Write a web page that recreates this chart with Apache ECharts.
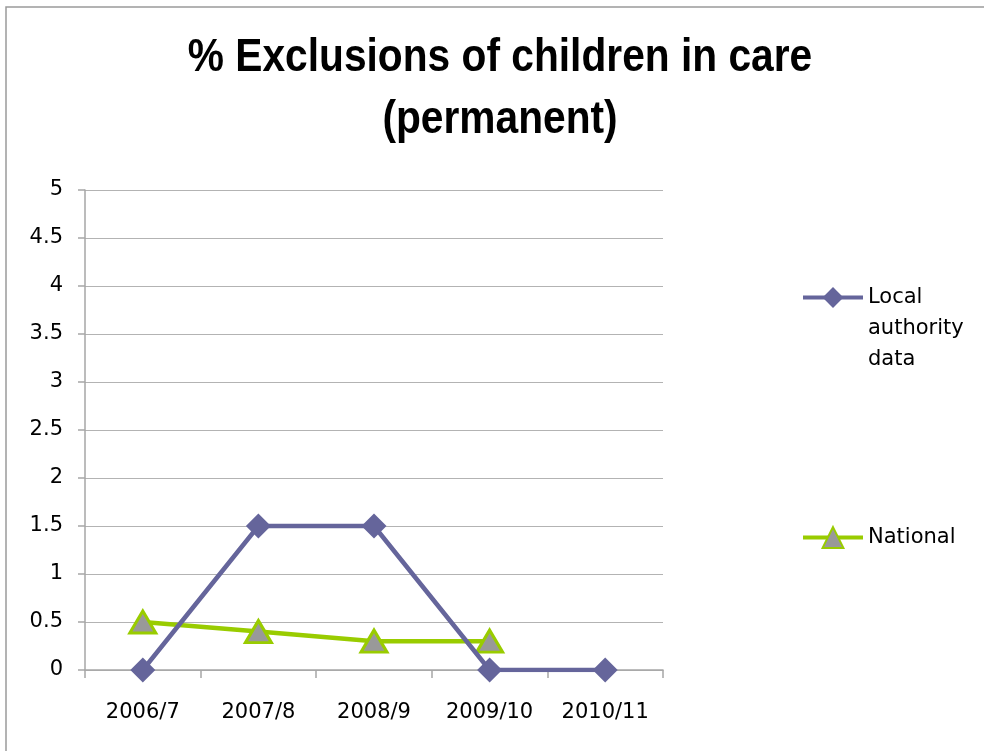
<!DOCTYPE html>
<html>
<head>
<meta charset="utf-8">
<style>
  html, body { margin: 0; padding: 0; background: #fff; }
  #chart { width: 984px; height: 751px; }
</style>
<script src="https://cdn.jsdelivr.net/npm/echarts@6/dist/echarts.min.js"></script>
</head>
<body>
<div id="chart"></div>
<script>
// School years on the category axis
const years = ['2006/7', '2007/8', '2008/9', '2009/10', '2010/11'];
// Permanent exclusions of children in care, percent
const localAuthority = [0, 1.5, 1.5, 0, 0];
const national = [0.5, 0.4, 0.3, 0.3, null];
// Value axis range and step
const yMin = 0;
const yMax = 5;
const yStep = 0.5;

const LABEL_FONT = 'DejaVu Sans';
const LEGEND_LINE = 31;

const chart = echarts.init(document.getElementById('chart'), null, { renderer: 'canvas' });

chart.setOption({
  backgroundColor: '#ffffff',
  animation: false,
  graphic: [{
    // outer frame of the chart area
    type: 'rect',
    x: 6,
    y: 7,
    shape: { x: 0, y: 0, width: 1000, height: 800 },
    style: { fill: 'none', stroke: '#9a9a9a', lineWidth: 1.5 },
    silent: true,
    z: -1
  }, {
    // condensed bold heading
    type: 'text',
    x: 500,
    y: 89,
    scaleX: 0.885,
    silent: true,
    style: {
      text: '% Exclusions of children in care\n(permanent)',
      x: 0,
      y: 0,
      align: 'center',
      verticalAlign: 'middle',
      fontFamily: '"Liberation Sans", Arial, sans-serif',
      fontWeight: 'bold',
      fontSize: 46,
      lineHeight: 62,
      fill: '#000'
    }
  }],
  legend: [{
    data: ['Local authority data'],
    left: 796,
    top: 215,
    orient: 'vertical',
    itemWidth: 60,
    itemHeight: 26,
    lineStyle: { width: 4 },
    formatter: function () { return '\n\nLocal\nauthority\ndata'; },
    textStyle: {
      fontFamily: LABEL_FONT,
      fontSize: 21,
      lineHeight: LEGEND_LINE,
      color: '#000'
    }
  }, {
    data: ['National'],
    left: 796,
    top: 517,
    orient: 'vertical',
    itemWidth: 60,
    itemHeight: 26,
    lineStyle: { width: 4 },
    textStyle: {
      fontFamily: LABEL_FONT,
      fontSize: 21,
      lineHeight: LEGEND_LINE,
      color: '#000'
    }
  }],
  grid: {
    left: 85,
    right: 321,
    top: 190,
    bottom: 81,
    containLabel: false
  },
  xAxis: {
    type: 'category',
    data: years,
    boundaryGap: true,
    axisLine: { show: true, lineStyle: { color: '#a6a6a6', width: 1.5 } },
    axisTick: { show: true, length: 8, lineStyle: { color: '#a6a6a6', width: 1.5 } },
    axisLabel: {
      margin: 32,
      fontFamily: LABEL_FONT,
      fontSize: 21,
      color: '#000'
    },
    splitLine: { show: false }
  },
  yAxis: {
    type: 'value',
    min: yMin,
    max: yMax,
    interval: yStep,
    axisLine: { show: true, lineStyle: { color: '#a6a6a6', width: 1.5 } },
    axisTick: { show: true, length: 7, lineStyle: { color: '#a6a6a6', width: 1.5 } },
    axisLabel: {
      margin: 22,
      padding: [6, 0, 0, 0],
      fontFamily: LABEL_FONT,
      fontSize: 21,
      color: '#000'
    },
    splitLine: { show: true, lineStyle: { color: '#b3b3b3', width: 1.2 } }
  },
  series: [{
    name: 'Local authority data',
    type: 'line',
    data: localAuthority,
    symbol: 'diamond',
    symbolSize: 25,
    color: '#65659b',
    lineStyle: { color: '#65659b', width: 4.5 },
    itemStyle: { color: '#65659b' },
    z: 3
  }, {
    name: 'National',
    type: 'line',
    data: national,
    symbol: 'triangle',
    symbolSize: [26, 22],
    color: '#99cc00',
    lineStyle: { color: '#99cc00', width: 4.5 },
    itemStyle: { color: '#999999', borderColor: '#99cc00', borderWidth: 3 },
    z: 2
  }]
});
</script>
</body>
</html>
